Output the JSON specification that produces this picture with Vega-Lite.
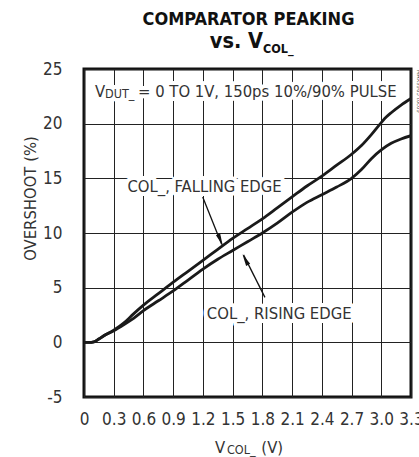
{
  "$schema": "https://vega.github.io/schema/vega-lite/v6.json",
  "width": 327,
  "height": 328,
  "autosize": {"type": "none"},
  "padding": {"left": 84, "top": 69, "right": 8, "bottom": 60},
  "background": "white",
  "config": {
    "view": {"stroke": "#111", "strokeWidth": 3},
    "axis": {
      "labelFont": "DejaVu Sans Condensed, sans-serif",
      "titleFont": "DejaVu Sans Condensed, sans-serif",
      "labelColor": "#333",
      "titleColor": "#333",
      "labelFontSize": 17,
      "titleFontSize": 16.5,
      "titleFontWeight": "normal",
      "gridColor": "#222",
      "gridWidth": 1,
      "gridOpacity": 1,
      "domain": false,
      "ticks": false,
      "tickSize": 0
    }
  },
  "datasets": {
    "curves": [
      {"v": 0, "os": 0, "edge": "falling"},
      {"v": 0.05, "os": 0, "edge": "falling"},
      {"v": 0.1, "os": 0.05, "edge": "falling"},
      {"v": 0.15, "os": 0.3, "edge": "falling"},
      {"v": 0.2, "os": 0.6, "edge": "falling"},
      {"v": 0.3, "os": 1.1, "edge": "falling"},
      {"v": 0.4, "os": 1.75, "edge": "falling"},
      {"v": 0.5, "os": 2.6, "edge": "falling"},
      {"v": 0.6, "os": 3.4, "edge": "falling"},
      {"v": 0.75, "os": 4.45, "edge": "falling"},
      {"v": 0.9, "os": 5.5, "edge": "falling"},
      {"v": 1.05, "os": 6.5, "edge": "falling"},
      {"v": 1.2, "os": 7.5, "edge": "falling"},
      {"v": 1.35, "os": 8.5, "edge": "falling"},
      {"v": 1.5, "os": 9.5, "edge": "falling"},
      {"v": 1.65, "os": 10.4, "edge": "falling"},
      {"v": 1.8, "os": 11.3, "edge": "falling"},
      {"v": 1.95, "os": 12.3, "edge": "falling"},
      {"v": 2.1, "os": 13.3, "edge": "falling"},
      {"v": 2.25, "os": 14.3, "edge": "falling"},
      {"v": 2.4, "os": 15.2, "edge": "falling"},
      {"v": 2.55, "os": 16.2, "edge": "falling"},
      {"v": 2.7, "os": 17.2, "edge": "falling"},
      {"v": 2.8, "os": 18.0, "edge": "falling"},
      {"v": 2.9, "os": 19.0, "edge": "falling"},
      {"v": 3.0, "os": 20.1, "edge": "falling"},
      {"v": 3.05, "os": 20.6, "edge": "falling"},
      {"v": 3.1, "os": 21.0, "edge": "falling"},
      {"v": 3.2, "os": 21.7, "edge": "falling"},
      {"v": 3.3, "os": 22.3, "edge": "falling"},
      {"v": 0, "os": 0, "edge": "rising"},
      {"v": 0.05, "os": 0, "edge": "rising"},
      {"v": 0.1, "os": 0.05, "edge": "rising"},
      {"v": 0.15, "os": 0.3, "edge": "rising"},
      {"v": 0.2, "os": 0.6, "edge": "rising"},
      {"v": 0.3, "os": 1.05, "edge": "rising"},
      {"v": 0.4, "os": 1.6, "edge": "rising"},
      {"v": 0.5, "os": 2.2, "edge": "rising"},
      {"v": 0.6, "os": 2.9, "edge": "rising"},
      {"v": 0.75, "os": 3.8, "edge": "rising"},
      {"v": 0.9, "os": 4.7, "edge": "rising"},
      {"v": 1.05, "os": 5.7, "edge": "rising"},
      {"v": 1.2, "os": 6.7, "edge": "rising"},
      {"v": 1.35, "os": 7.6, "edge": "rising"},
      {"v": 1.5, "os": 8.4, "edge": "rising"},
      {"v": 1.65, "os": 9.2, "edge": "rising"},
      {"v": 1.8, "os": 10.0, "edge": "rising"},
      {"v": 1.95, "os": 10.9, "edge": "rising"},
      {"v": 2.1, "os": 11.9, "edge": "rising"},
      {"v": 2.25, "os": 12.8, "edge": "rising"},
      {"v": 2.4, "os": 13.5, "edge": "rising"},
      {"v": 2.55, "os": 14.2, "edge": "rising"},
      {"v": 2.7, "os": 15.0, "edge": "rising"},
      {"v": 2.8, "os": 15.8, "edge": "rising"},
      {"v": 2.9, "os": 16.8, "edge": "rising"},
      {"v": 3.0, "os": 17.6, "edge": "rising"},
      {"v": 3.1, "os": 18.2, "edge": "rising"},
      {"v": 3.2, "os": 18.6, "edge": "rising"},
      {"v": 3.3, "os": 18.9, "edge": "rising"}
    ],
    "ann": [
      {"v": 0.11, "os": 22.46, "label": "V"},
      {"v": 0.545, "os": 22.46, "label": "= 0 TO 1V, 150ps 10%/90% PULSE"},
      {"v": 0.438, "os": 13.78, "label": "COL_, FALLING EDGE"},
      {"v": 1.24, "os": 2.1, "label": "COL_, RISING EDGE"},
      {"v": 1.322, "os": -10.08, "label": "V"},
      {"v": 1.79, "os": -10.08, "label": "(V)"}
    ],
    "annsub": [
      {"v": 0.212, "os": 22.32, "label": "DUT_"},
      {"v": 1.443, "os": -10.22, "label": "COL_"}
    ],
    "t1": [{"v": 1.66, "os": 29.07, "label": "COMPARATOR PEAKING"}],
    "t2": [{"v": 1.806, "os": 26.93, "label": "vs. V"}],
    "t2sub": [{"v": 1.806, "os": 26.5, "label": "COL_"}],
    "arrows": [
      {"v": 1.198, "os": 13.3, "v2": 1.39, "os2": 8.95},
      {"v": 1.826, "os": 4.11, "v2": 1.61, "os2": 8.0}
    ]
  },
  "encoding": {
    "x": {
      "field": "v", "type": "quantitative",
      "scale": {"domain": [0, 3.3], "nice": false, "zero": false},
      "axis": {
        "title": null,
        "values": [0, 0.3, 0.6, 0.9, 1.2, 1.5, 1.8, 2.1, 2.4, 2.7, 3.0, 3.3],
        "labelExpr": "datum.value == 0 ? '0' : format(datum.value, '.1f')",
        "labelPadding": 14,
        "labelFlush": false,
        "labelOverlap": false,
        "labelBound": false
      }
    },
    "y": {
      "field": "os", "type": "quantitative",
      "scale": {"domain": [-5, 25], "nice": false, "zero": false},
      "axis": {
        "title": "OVERSHOOT (%)",
        "values": [-5, 0, 5, 10, 15, 20, 25],
        "labelExpr": "datum.value < 0 ? '-' + abs(datum.value) : '' + datum.value",
        "labelPadding": 22,
        "labelBaseline": "middle",
        "titleAngle": -90,
        "titleX": -54,
        "titleY": 129,
        "titleAlign": "center",
        "titleBaseline": "middle"
      }
    }
  },
  "layer": [
    {
      "data": {"name": "curves"},
      "mark": {"type": "line", "color": "#1a1a1a", "strokeWidth": 2.8, "interpolate": "monotone", "clip": true},
      "encoding": {"detail": {"field": "edge"}}
    },
    {
      "data": {"name": "arrows"},
      "mark": {"type": "rule", "color": "#111", "strokeWidth": 1.3},
      "encoding": {"x2": {"field": "v2"}, "y2": {"field": "os2"}}
    },
    {
      "data": {"values": [{"v": 1.376, "os": 9.38}]},
      "mark": {"type": "point", "shape": "M0,-1L0.38,1L-0.38,1Z", "filled": true, "color": "#111", "opacity": 1, "size": 144, "angle": 157},
      "encoding": {}
    },
    {
      "data": {"values": [{"v": 1.628, "os": 7.57}]},
      "mark": {"type": "point", "shape": "M0,-1L0.38,1L-0.38,1Z", "filled": true, "color": "#111", "opacity": 1, "size": 144, "angle": 332},
      "encoding": {}
    },
    {
      "data": {"name": "ann"},
      "mark": {"type": "text", "align": "left", "baseline": "alphabetic", "font": "DejaVu Sans Condensed, sans-serif", "fontSize": 16.5, "color": "white", "stroke": "white", "strokeWidth": 8, "strokeJoin": "round"},
      "encoding": {"text": {"field": "label"}}
    },
    {
      "data": {"name": "annsub"},
      "mark": {"type": "text", "align": "left", "baseline": "alphabetic", "font": "DejaVu Sans Condensed, sans-serif", "fontSize": 12.5, "color": "white", "stroke": "white", "strokeWidth": 8, "strokeJoin": "round"},
      "encoding": {"text": {"field": "label"}}
    },
    {
      "data": {"name": "ann"},
      "mark": {"type": "text", "align": "left", "baseline": "alphabetic", "font": "DejaVu Sans Condensed, sans-serif", "fontSize": 16.5, "color": "#333"},
      "encoding": {"text": {"field": "label"}}
    },
    {
      "data": {"name": "annsub"},
      "mark": {"type": "text", "align": "left", "baseline": "alphabetic", "font": "DejaVu Sans Condensed, sans-serif", "fontSize": 12.5, "color": "#333"},
      "encoding": {"text": {"field": "label"}}
    },
    {
      "data": {"name": "t1"},
      "mark": {"type": "text", "align": "center", "baseline": "alphabetic", "font": "DejaVu Sans Condensed, sans-serif", "fontSize": 18, "fontWeight": "bold", "color": "#111"},
      "encoding": {"text": {"field": "label"}}
    },
    {
      "data": {"name": "t2"},
      "mark": {"type": "text", "align": "right", "baseline": "alphabetic", "font": "DejaVu Sans Condensed, sans-serif", "fontSize": 21.5, "fontWeight": "bold", "color": "#111"},
      "encoding": {"text": {"field": "label"}}
    },
    {
      "data": {"name": "t2sub"},
      "mark": {"type": "text", "align": "left", "baseline": "alphabetic", "font": "DejaVu Sans Condensed, sans-serif", "fontSize": 12.5, "fontWeight": "bold", "color": "#111"},
      "encoding": {"text": {"field": "label"}}
    },
    {
      "data": {"values": [{"v": 3.38, "os": 24.9, "label": "MAX9965 toc09"}]},
      "mark": {"type": "text", "align": "left", "baseline": "middle", "angle": 90, "font": "DejaVu Sans Condensed, sans-serif", "fontSize": 6, "color": "#555"},
      "encoding": {"text": {"field": "label"}}
    }
  ]
}
